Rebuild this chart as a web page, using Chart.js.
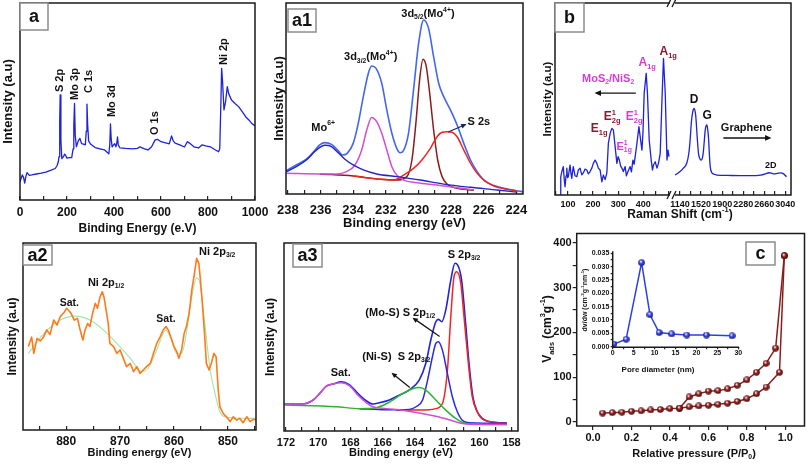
<!DOCTYPE html>
<html>
<head>
<meta charset="utf-8">
<script src="https://cdn.jsdelivr.net/npm/chart.js@4.4.1/dist/chart.umd.min.js"></script>
<style>
body{margin:0;background:#fff}
#fig{position:relative;width:810px;height:465px;overflow:hidden;background:#fff}
#fig canvas{position:absolute}
</style>
</head>
<body>
<div id="fig"></div>
<script>
//Data - (a) XPS survey
var surveyE=[0,5,10,15,20,25,30,40,50,70,90,110,130,150,158,163,166,169,171,174,178,185,190,195,200,210,220,226,229,232,235,240,248,255,262,270,278,282,285,288,292,300,320,340,360,378,382,385,388,392,398,403,408,412,415,418,425,450,480,500,510,530,545,560,575,585,600,620,635,645,652,660,680,700,712,720,740,760,775,790,810,830,845,850,855,858,862,868,875,882,888,900,915,930,945,960,975,985,1000]
var surveyI=[9.3,11,12.7,11.5,8.6,12,13.9,12.5,12.7,13.2,13.6,14.2,15,16,17.5,19.4,22,40,53.3,30,21,22,23.3,22.5,21.2,21.5,21.5,26,38,49,33,27,30,31.3,28.6,28.4,28,35,48.7,38,30,28.4,26.6,26,25.4,23.5,28,38.6,31,27,28,28.6,27,29,32,28,26.5,26.2,26,26.2,27,26,25.4,27,30.5,30.8,29.6,29,28.5,32.5,30,28.9,28,26.9,29.6,29,27,26.4,28,27.5,27,25.5,24.5,26,50,66.8,60,45.7,50,57.5,54,50.8,49,47.4,45,42.3,40.5,39,37.6]
var surveyTicks=[0,100,200,300,400,500,600,700,800,900,1000]
var surveyLabels=[0,200,400,600,800,1000]

//(a1) Mo 3d
var moEnvE=[238.1,237.49,236.87,236.36,236.05,235.74,235.33,234.92,234.65,234.37,234.0,233.69,233.38,233.07,232.87,232.6,232.25,231.94,231.63,231.33,231.12,230.92,230.61,230.3,229.99,229.68,229.38,229.07,228.76,228.45,228.04,227.63,227.22,226.81,226.4,225.99,225.37,224.76,224.0,223.59]
var moEnvI=[12.2,15.2,18.2,22.7,25.7,26.9,26,22.7,20.4,21.3,26.5,37,51,63.2,67,65.8,58,44,31.8,23.9,21.6,22.7,31.8,54.5,78.9,91.1,86.7,71.9,58,51,44,36.1,26.5,17.8,11.7,7.3,4.4,3,1.7,1.2]
var mo6E=[238.1,237.49,236.87,236.36,236.05,235.74,235.33,234.92,234.51,234.0,233.38,232.56,231.33,229.89,228.45,226.81,225.17,224.0]
var mo6I=[11.7,14.3,17.8,22.2,24.4,25.5,24.8,21.6,18.2,15.2,12.6,10.5,9.1,7.3,5.2,3.5,2.1,1]
var mo32E=[238.1,236.05,235.02,234.41,233.89,233.48,233.17,232.87,232.56,232.25,231.94,231.63,231.33,230.92,230.09,228.86,226.81,226.6]
var mo32I=[10.8,10.5,10.5,11.7,15.2,23,33.5,40.1,37.9,31.8,23,14.3,9.9,7.3,5.9,4.7,2.4,2.1]
var mo52E=[236.05,234.0,232.35,231.33,230.71,230.4,230.14,229.93,229.72,229.52,229.31,229.07,228.82,228.55,228.25,227.63,226.81,226.6]
var mo52I=[10.5,9.4,7.7,7.3,9.1,17.8,38.7,59.7,70.5,66.7,52.7,33.5,17.8,9.1,5.2,3,2.1,1.9]
var s2sE=[234.0,232.35,231.53,230.92,230.3,229.79,229.27,228.86,228.55,228.25,227.94,227.63,227.22,226.81,226.4,225.99,225.37,224.76,224.0]
var s2sI=[9.4,7.7,7.3,9.9,13.4,17.8,23.9,30,32.3,32.6,32.3,30,23,16.1,10.8,7.3,4.2,2.8,1.7]
var moTicks=[238,237,236,235,234,233,232,231,230,229,228,227,226,225,224]
var moLabels=[238,236,234,232,230,228,226,224]

//(b) Raman
var ramanLX=[70,71,75,81,85,88,92,95,98,101,105,108,112,115,118,121,128,135,141,148,155,161,168,175,181,188,195,201,208,215,221,228,235,241,248,255,261,268,275,281,288,295,300,305,310,315,321,328,333,337,342,348,353,359,364,368,375,383,388,395,399,404,412,417,424,432,437,441,448,455,461,468,475,481,488,495,499,503]
var ramanLY=[0,9.5,12,14.8,8,4.3,10,14,9,9.5,13,15.6,11,8.7,12,14.8,10,9.5,13,14,10.5,11.5,13.5,13,11,12.2,14,16.5,18.2,16.5,14,13,6.9,10.4,8,11.5,26.9,32.1,34.7,33.9,25.2,16.5,20,18.2,15,14,12.2,14.8,10,11.5,13,14.8,12,18.2,16,20,26.9,35.6,30.4,23.4,32.1,53,63.4,53,28.6,18.2,13,15.6,17.3,14,16.5,21.7,49.5,71.2,53,18.2,23.4,20]
var ramanRX=[1049,1100,1140,1200,1261,1300,1322,1345,1364,1380,1394,1410,1425,1450,1473,1500,1522,1545,1564,1580,1595,1610,1625,1640,1655,1670,1685,1716,1760,1807,2000,2231,2400,2595,2680,2746,2800,2837,2900,2959,3010,3062]
var ramanRY=[10.4,11.3,12.2,14,16.5,22,28.6,38,42.5,44.5,45.1,44,40.8,30,21.7,18.8,18.2,19.5,23.4,29,33.9,36,36.5,34,29.5,21,14.8,11.5,10.8,10.4,10.2,10.1,10.1,10.4,11,11.6,11.3,11,11.3,11.5,11,9.5]
var ramanLTicks=[50,100,150,200,250,300,350,400,450,500]
var ramanLLabels=[100,200,300,400]
var ramanRTicks=[1140,1330,1520,1710,1900,2090,2280,2470,2660,2850,3040]
var ramanRLabels=[1140,1520,1900,2280,2660,3040]

//(a2) Ni 2p
var niE=[887.0,886.4,886.0,885.4,884.8,884.2,883.6,883.0,882.3,881.7,881.1,880.5,879.9,879.6,879.1,878.5,877.9,877.4,876.9,876.5,876.0,875.6,875.1,874.6,874.2,873.7,873.3,873.0,872.6,872.2,871.9,871.2,870.6,870.0,869.4,868.8,868.1,867.5,866.9,866.3,865.7,865.1,864.4,863.8,863.2,862.6,862.0,861.5,861.05,860.4,860.0,859.5,859.1,858.6,858.1,857.7,857.2,856.7,856.3,855.8,855.4,855.1,854.7,854.3,854.0,853.5,853.1,852.6,852.2,851.8,851.5,850.9,850.3,849.6,849.0,848.4,847.8,847.2,846.5,845.9,845.3,844.8]
var niI=[44.6,49.7,41,49,47.6,49.7,53.5,51,58.8,56.1,60.6,62.4,65.1,64.2,62.4,58.8,59.7,53.5,48.1,53.5,57,55.3,62.4,67.7,65.1,71.3,73.9,71.3,64.2,57,46.3,44.6,41,42.8,38.3,33.9,35.6,31.2,33.9,30.3,32.1,33.9,35.6,41,46.3,49.7,53.5,55.3,53.5,48.1,44.6,41.9,38.3,42.8,51.9,55.3,62.4,74.9,82,91.8,89.1,80.2,65.9,49.7,35.6,32.1,35.6,41,39.2,21.4,12.5,8.9,7.1,4.5,7.1,5.3,6.2,3.9,7.1,4.5,5.7,5.3]
var niFitE=[887.0,884.2,881.1,878.3,875.6,873.1,870.6,868.1,866.0,864.8,863.2,861.5,860.7,859.5,858.6,857.7,856.7,855.8,855.2,854.3,853.3,852.4,851.5,850.3,844.8]
var niFitI=[41,51.4,58.8,60.9,58.8,53.5,46.3,38.3,31.2,33,42.8,53.5,49.7,41,41,51.9,71.3,81.3,78.6,57,32.1,19.6,9.8,6.8,6.2]
var niTicks=[885,880,875,870,865,860,855,850,845]
var niLabels=[880,870,860,850]

//(a3) S 2p
var sEnvE=[172.1,170.93,170.31,169.9,169.49,169.08,168.56,168.05,167.54,167.02,166.61,166.2,165.58,164.96,164.35,163.73,163.32,163.01,162.7,162.54,162.33,162.08,161.77,161.51,161.36,161.1,160.85,160.64,160.4,160.13,159.82,159.41,158.79,158.28]
var sEnvI=[14.4,14.4,16.5,20,23.9,25,26.2,24.5,20,16.1,14.4,15,16.5,19.1,21.8,27.1,36,48.4,58.1,59.4,58.1,64.4,80.3,89.2,88.5,80.3,57.3,36,18.3,10.3,6.7,5,4.4,4.1]
var sSatE=[172.1,170.93,170.31,169.9,169.49,169.08,168.56,168.05,167.54,167.02,166.61,165.79,164.76,163.73,162.7,161.88,161.06,160.24,158.28]
var sSatI=[14.4,14.4,16.5,20,23.9,25,25.7,24,19.1,15.1,12.9,11.9,11.1,9.6,7.8,6,4,3.4,3.4]
var sNiE=[172.1,168.87,167.43,166.4,165.58,164.76,164.14,163.73,163.32,162.7,162.08,161.47,160.85,158.28]
var sNiI=[13.8,12.9,11.9,12.4,15.4,19.9,22.5,23.1,21.8,16.5,11.1,6.7,4,3.4]
var sMoE=[167.43,165.79,164.35,163.93,163.52,163.21,162.91,162.7,162.54,162.29,161.98,161.67,161.36,161.06,160.64,158.28]
var sMoI=[11.9,11.3,11.5,12.9,16.5,27.1,39.5,46.6,47.5,43,30.5,18.1,10.1,5.7,4.4,4.1]
var s32E=[165.17,163.11,162.7,162.29,161.98,161.77,161.57,161.4,161.15,160.95,160.68,160.44,160.13,159.72,158.28]
var s32I=[11.1,11.3,11.9,14.6,32.3,60.8,82.1,84.7,78.5,60.8,36,18.3,10.3,5.9,4.1]
var sTicks=[172,171,170,169,168,167,166,165,164,163,162,161,160,159,158]
var sLabels=[172,170,168,166,164,162,160,158]

//(c) N2 isotherm + pore size
var adsP=[0.05,0.1,0.15,0.2,0.25,0.3,0.35,0.4,0.45,0.5,0.55,0.6,0.65,0.7,0.75,0.8,0.85,0.9,0.97,0.995]
var adsV=[20,21,22,24,25,27,28,30,31,34,36,37.5,39.5,42,46,52,63,78,111,371]
var desP=[0.995,0.95,0.9,0.85,0.8,0.75,0.7,0.65,0.6,0.55,0.5,0.45]
var desV=[371,165,131,111,94,82,74,70,69,63,56,31]
var pTicks=[0,0.1,0.2,0.3,0.4,0.5,0.6,0.7,0.8,0.9,1.0]
var pLabels=[0,0.2,0.4,0.6,0.8,1.0]
var vTicks=[0,50,100,150,200,250,300,350,400]
var vLabels=[0,100,200,300,400]
var poreD=[0.3,3.2,6.9,8.9,11.1,14.1,17.7,22.4,28.5]
var poreV=[0.001,0.0028,0.0315,0.012,0.0053,0.0048,0.0044,0.0044,0.0041]
var dTicks=[0,2.5,5,7.5,10,12.5,15,17.5,20,22.5,25,27.5,30]
var dLabels=[0,5,10,15,20,25,30]
var dvTicks=[0,0.0025,0.005,0.0075,0.01,0.0125,0.015,0.0175,0.02,0.0225,0.025,0.0275,0.03,0.0325,0.035]
var dvLabels=[0,0.005,0.01,0.015,0.02,0.025,0.03,0.035]

//Helpers
var FAM='"Liberation Sans", Arial, Helvetica, sans-serif';
function f(s){return {family:FAM,size:s,weight:'bold',lineHeight:1.2};}
function fnt(s){return 'bold '+s+'px '+FAM;}
function pts(xs,ys){return xs.map(function(x,i){return {x:x,y:ys[i]};});}
function ln(xs,ys,col,w,smooth){
  return {data:pts(xs,ys),borderColor:col,borderWidth:w||1.4,pointRadius:0,fill:false,
    cubicInterpolationMode:smooth?'monotone':'default'};
}

function xAxis(o){
  return {
    type:'linear',position:'bottom',min:o.min,max:o.max,reverse:!!o.rev,
    afterBuildTicks:function(s){s.ticks=o.ticks.map(function(v){return {value:v};});},
    afterFit:function(s){s.height=o.h;s.paddingLeft=0;s.paddingRight=0;},
    grid:{drawOnChartArea:false,tickLength:o.tl,color:'#222',lineWidth:1.2},
    border:{display:false},
    ticks:{autoSkip:false,maxRotation:0,color:'#111',font:f(o.fs),padding:o.pad,
      callback:function(v){return o.labels.indexOf(v)>=0?(o.fmt?o.fmt(v):String(v)):'';}},
    title:o.title?{display:true,text:o.title,color:'#111',font:f(o.ts),padding:{top:0,bottom:o.tpb||0}}:{display:false}
  };
}
function yAxis(o){
  var ax={
    type:'linear',min:o.min,max:o.max,display:o.show!==false,
    afterFit:function(s){s.width=o.w;s.paddingTop=0;s.paddingBottom=0;},
    border:{display:false},
    grid:{display:!!o.ticks,drawOnChartArea:false,tickLength:o.tl||0,color:'#222',lineWidth:1.2},
    ticks:{display:!!o.labels,autoSkip:false,color:'#111',font:f(o.fs||11),padding:o.pad||0,
      callback:function(v){return o.labels&&o.labels.indexOf(v)>=0?(o.fmt?o.fmt(v):String(v)):'';}},
    title:o.title?{display:true,text:o.title,color:'#111',font:f(o.ts||12),padding:{top:o.tpt||0,bottom:0}}:{display:false}
  };
  if(o.ticks){ax.afterBuildTicks=function(s){s.ticks=o.ticks.map(function(v){return {value:v};});};}
  return ax;
}

//Rich text: _{sub} ^{sup}
function parse(s){
  var out=[],re=/([_^])\{([^}]*)\}/g,last=0,m;
  while((m=re.exec(s))){
    if(m.index>last){out.push({t:s.slice(last,m.index),k:''});}
    out.push({t:m[2],k:m[1]});
    last=re.lastIndex;
  }
  if(last<s.length){out.push({t:s.slice(last),k:''});}
  return out;
}
function drawRich(ctx,s,x,y,size,col,rot,al){
  var segs=parse(s),w=0,prev=null;
  ctx.save();
  segs.forEach(function(g){
    ctx.font=fnt(g.k?size*0.62:size);
    g.w=ctx.measureText(g.t).width;
    if(g.k==='_'&&prev&&prev.k==='^'){g.x=prev.x;w=prev.x+Math.max(prev.w,g.w);}
    else{g.x=w;w+=g.w;}
    prev=g;
  });
  ctx.translate(x,y);
  if(rot){ctx.rotate(-Math.PI/2);}
  var x0=al==='left'?0:-w/2;
  ctx.fillStyle=col;ctx.textBaseline='middle';ctx.textAlign='left';
  segs.forEach(function(g){
    ctx.font=fnt(g.k?size*0.62:size);
    var dy=g.k==='_'?size*0.32:(g.k==='^'?-size*0.38:0);
    ctx.fillText(g.t,x0+g.x,dy);
  });
  ctx.restore();
}
function arrow(ctx,x1,y1,x2,y2,col,L){
  var a=Math.atan2(y2-y1,x2-x1);
  ctx.strokeStyle=col;ctx.fillStyle=col;ctx.lineWidth=1.3;
  ctx.beginPath();ctx.moveTo(x1,y1);ctx.lineTo(x2-L*0.7*Math.cos(a),y2-L*0.7*Math.sin(a));ctx.stroke();
  ctx.beginPath();ctx.moveTo(x2,y2);
  ctx.lineTo(x2-L*Math.cos(a-0.42),y2-L*Math.sin(a-0.42));
  ctx.lineTo(x2-L*Math.cos(a+0.42),y2-L*Math.sin(a+0.42));
  ctx.closePath();ctx.fill();
}
function sphere(col,edge,d){
  var c=document.createElement('canvas');c.width=d;c.height=d;
  var g=c.getContext('2d'),r=d/2;
  var gr=g.createRadialGradient(r*0.75,r*0.65,r*0.1,r,r,r);
  gr.addColorStop(0,'#ffffff');gr.addColorStop(0.4,col);gr.addColorStop(1,edge);
  g.fillStyle=gr;g.beginPath();g.arc(r,r,r-0.2,0,Math.PI*2);g.fill();
  return c;
}

//Decorations: frame, labels, arrows, panel letter
var decoCfg={},offs={};
var deco={id:'deco',afterDatasetsDraw:function(ch){
  var d=decoCfg[ch.canvas.id];
  if(!d){return;}
  var ctx=ch.ctx,a=ch.chartArea,o=offs[ch.canvas.id],sx=ch.scales.x,sy=ch.scales.y,fr=d.frame||'';
  ctx.save();
  ctx.strokeStyle='#1a1a1a';ctx.lineWidth=1.5;ctx.lineCap='square';
  ctx.beginPath();
  if(fr.indexOf('l')>=0){ctx.moveTo(a.left,a.top);ctx.lineTo(a.left,a.bottom);}
  if(fr.indexOf('r')>=0){ctx.moveTo(a.right,a.top);ctx.lineTo(a.right,a.bottom);}
  if(fr.indexOf('t')>=0){ctx.moveTo(a.left,a.top);ctx.lineTo(a.right,a.top);}
  if(fr.indexOf('b')>=0){ctx.moveTo(a.left,a.bottom);ctx.lineTo(a.right,a.bottom);}
  ctx.stroke();
  if(d.brk){
    [a.top,a.bottom].forEach(function(y){
      ctx.fillStyle='#fff';ctx.fillRect(a.left-3,y-3,5,6);
      ctx.strokeStyle='#1a1a1a';ctx.lineWidth=1.3;ctx.lineCap='butt';
      ctx.beginPath();
      ctx.moveTo(a.left-6,y+4);ctx.lineTo(a.left-2,y-4);
      ctx.moveTo(a.left-1,y+4);ctx.lineTo(a.left+3,y-4);
      ctx.stroke();
    });
  }
  (d.arrows||[]).forEach(function(r){
    arrow(ctx,sx.getPixelForValue(r[0]),sy.getPixelForValue(r[1]),sx.getPixelForValue(r[2]),sy.getPixelForValue(r[3]),r[4]||'#111',r[5]||6);
  });
  (d.notes||[]).forEach(function(n){
    drawRich(ctx,n.t,sx.getPixelForValue(n.x),sy.getPixelForValue(n.y),n.s||11,n.c||'#111',n.rot,n.al);
  });
  (d.texts||[]).forEach(function(n){
    drawRich(ctx,n.t,n.x-o[0],n.y-o[1],n.s||11,n.c||'#111',n.rot,n.al);
  });
  if(d.box){
    var b=d.box;
    ctx.fillStyle='#fff';ctx.fillRect(b[0]-o[0],b[1]-o[1],b[2],b[3]);
    ctx.strokeStyle='#8c8c8c';ctx.lineWidth=1.5;ctx.lineCap='butt';
    ctx.strokeRect(b[0]-o[0],b[1]-o[1],b[2],b[3]);
    drawRich(ctx,b[4],b[0]-o[0]+b[2]/2,b[1]-o[1]+b[3]/2+1,18,'#111');
  }
  ctx.restore();
}};

function mk(id,box,datasets,scales,pad,dc){
  var c=document.createElement('canvas');
  c.id=id;c.width=box[2];c.height=box[3];
  c.style.left=box[0]+'px';c.style.top=box[1]+'px';
  c.style.width=box[2]+'px';c.style.height=box[3]+'px';
  document.getElementById('fig').appendChild(c);
  offs[id]=box;decoCfg[id]=dc;
  return new Chart(c,{type:'line',data:{datasets:datasets},plugins:[deco],options:{
    responsive:false,animation:false,devicePixelRatio:1,events:[],
    layout:{padding:pad},
    plugins:{legend:{display:false},tooltip:{enabled:false}},
    elements:{point:{radius:0},line:{tension:0,borderJoinStyle:'round'}},
    scales:scales
  }});
}

var BLUE='#1e22d8',MAG='#d24fd2',DRED='#8b1c1c',RED='#f02424',GRN='#2cb52c';
var PINK='#d63cd6',WINE='#8b1a30';

//Charts
//(a)
mk('cA',[0,0,270,240],[ln(surveyE,surveyI,BLUE,1.3)],{
  x:xAxis({min:0,max:1000,ticks:surveyTicks,labels:surveyLabels,fs:12,tl:-4,pad:9.8,h:40,title:'Binding Energy (e.V)',ts:12,tpb:3.8}),
  y:yAxis({min:0,max:100,w:20,title:'Intensity (a.u)',ts:13,tpt:0.2})
},{top:3,right:15,left:0,bottom:0},{frame:'ltrb',box:[20,3,28,27,'a'],notes:[
  {x:170,y:54.8,t:'S 2p',rot:true,al:'left'},{x:234,y:50.8,t:'Mo 3p',rot:true,al:'left'},
  {x:294,y:54.3,t:'C 1s',rot:true,al:'left'},{x:391,y:42.1,t:'Mo 3d',rot:true,al:'left'},
  {x:574,y:33,t:'O 1s',rot:true,al:'left'},{x:868,y:68.5,t:'Ni 2p',rot:true,al:'left'}
]});

//(a1)
mk('cA1',[270,0,270,232],[
  ln(mo6E,mo6I,'#2424c8',1.4,true),ln(mo32E,mo32I,MAG,1.5,true),ln(s2sE,s2sI,RED,1.5,true),
  ln(mo52E,mo52I,DRED,1.5,true),ln(moEnvE,moEnvI,'#4466f0',1.6,true)
],{
  x:xAxis({min:223.59,max:238.12,rev:true,ticks:moTicks,labels:moLabels,fs:13,tl:-4,pad:12.2,h:38,title:'Binding energy (eV)',ts:13,tpb:1.2}),
  y:yAxis({min:0,max:100,w:16,title:'Intensity (a.u)',ts:13,tpt:1.2})
},{top:3,right:17,left:0,bottom:0},{frame:'ltrb',box:[288,9,28,23,'a1'],
  notes:[{x:229.42,y:94.2,t:'3d_{5/2}(Mo^{4+})'},{x:232.93,y:71.6,t:'3d_{3/2}(Mo^{4+})'},
    {x:235.84,y:34.7,t:'Mo^{6+}'},{x:226.3,y:37.5,t:'S 2s'}],
  arrows:[[228.14,32.6,227.05,36.6,'#1a2a60',6]]
});

//(b) left segment
mk('cBL',[540,0,270,232],[ln(ramanLX,ramanLY,BLUE,1.3)],{
  x:xAxis({min:48,max:519,ticks:ramanLTicks,labels:ramanLLabels,fs:9,tl:-4,pad:8.6,h:37}),
  y:yAxis({min:0,max:100,w:15,title:'Intensity (a.u)',ts:11.5,tpt:1.1})
},{top:3,right:137,left:0,bottom:0},{frame:'ltb',box:[555,3,29,29,'b'],
  notes:[{x:260,y:60.4,t:'MoS_{2}/NiS_{2}',c:PINK,s:11},{x:500,y:74.5,t:'A_{1g}',c:WINE,s:12},
    {x:416,y:68.8,t:'A_{1g}',c:PINK,s:12},{x:364,y:40.6,t:'E^{1}_{2g}',c:PINK,s:12},
    {x:276,y:40.6,t:'E^{1}_{2g}',c:WINE,s:12},{x:224,y:34.4,t:'E_{1g}',c:WINE,s:12},
    {x:324,y:25,t:'E^{1}_{1g}',c:PINK,s:11}],
  arrows:[[368,53.1,206,53.1,'#111',7]]
});
//(b) right segment
mk('cBR',[540,0,270,232],[ln(ramanRX,ramanRY,BLUE,1.3,true)],{
  x:xAxis({min:1013,max:3143,ticks:ramanRTicks,labels:ramanRLabels,fs:9,tl:-4,pad:8.6,h:37}),
  y:yAxis({min:0,max:100,w:0,show:false})
},{top:3,right:19,left:133,bottom:0},{frame:'rtb',brk:true,
  notes:[{x:1395,y:49.5,t:'D',s:12},{x:1631,y:41.1,t:'G',s:12},{x:2340,y:34.9,t:'Graphene',s:11},{x:2776,y:15.6,t:'2D',s:9}],
  arrows:[[1922,29.7,2790,29.7,'#111',7]],
  texts:[{x:680,y:215,t:'Raman Shift (cm^{-1})',s:12}]
});

//(a2)
mk('cA2',[0,232,270,233],[ln(niE,niI,'#ff7a1a',1.6),ln(niFitE,niFitI,'#9ee8a6',1.1,true)],{
  x:xAxis({min:844.8,max:888,rev:true,ticks:niTicks,labels:niLabels,fs:12,tl:-4,pad:8.8,h:35,title:'Binding energy (eV)',ts:11,tpb:5.4}),
  y:yAxis({min:0,max:100,w:23,title:'Intensity (a.u)',ts:12,tpt:5.8})
},{top:11,right:14,left:0,bottom:0},{frame:'ltrb',box:[23,245,29,20,'a2'],
  notes:[{x:852,y:95.2,t:'Ni 2p_{3/2}'},{x:872.6,y:78.6,t:'Ni 2p_{1/2}'},{x:879.4,y:67.9,t:'Sat.',s:10.5},{x:861.5,y:59.4,t:'Sat.',s:10.5}]
});

//(a3)
mk('cA3',[262,232,278,233],[
  ln(sSatE,sSatI,MAG,1.5,true),ln(sNiE,sNiI,GRN,1.5,true),ln(sMoE,sMoI,'#2a2ae0',1.5,true),
  ln(s32E,s32I,RED,1.5,true),ln(sEnvE,sEnvI,'#2424d0',1.6,true)
],{
  x:xAxis({min:157.6,max:172.12,rev:true,ticks:sTicks,labels:sLabels,fs:11,tl:-4,pad:9.4,h:34,title:'Binding energy (eV)',ts:11,tpb:5.4}),
  y:yAxis({min:0,max:100,w:22,title:'Intensity (a.u)',ts:12,tpt:1.8})
},{top:11,right:22,left:0,bottom:0},{frame:'ltrb',box:[293,244,29,23,'a3'],
  notes:[{x:160.95,y:93.6,t:'S 2p_{3/2}'},{x:164.9,y:62.8,t:'(Mo-S) S 2p_{1/2}'},
    {x:165.15,y:39.4,t:'(Ni-S)  S 2p_{3/2}'},{x:168.6,y:30.9,t:'Sat.'}],
  arrows:[[162.5,50.5,164.15,60.3,'#111',6],[164.35,23.4,165.45,31,'#111',6]]
});

//(c) isotherm
var ballR=sphere('#a12424','#3a0808',7),ballB=sphere('#3a4cf0','#10186a',7);
mk('cC',[540,228,270,237],[
  {data:pts(adsP,adsV),borderColor:DRED,borderWidth:1.5,pointStyle:ballR,pointRadius:3.5,fill:false},
  {data:pts(desP,desV),borderColor:DRED,borderWidth:1.5,pointStyle:ballR,pointRadius:3.5,fill:false}
],{
  x:xAxis({min:-0.085,max:1.1,ticks:pTicks,labels:pLabels,fs:11,tl:4,pad:1.4,h:39,fmt:function(v){return v.toFixed(1);}}),
  y:yAxis({min:-8.8,max:420.5,w:36.7,ticks:vTicks,labels:vLabels,fs:11,tl:4,pad:1})
},{top:3.5,right:2,left:0,bottom:0},{frame:'ltrb',box:[746,242,29,23,'c'],
  texts:[{x:694,y:454,t:'Relative pressure (P/P_{0})',s:11},{x:548,y:329,t:'V_{ads} (cm^{3}g^{-1})',s:12,rot:true}]
});

//(c) inset
mk('cIn',[575,240,170,140],[
  {data:pts(poreD,poreV),borderColor:'#2b3fe0',borderWidth:1.5,pointStyle:ballB,pointRadius:3.5,fill:false}
],{
  x:xAxis({min:0,max:30,ticks:dTicks,labels:dLabels,fs:7,tl:2,pad:-0.5,h:32.7}),
  y:yAxis({min:-0.0002,max:0.0355,w:37.7,ticks:dvTicks,labels:dvLabels,fs:7,tl:2,pad:1.4,fmt:function(v){return v.toFixed(3);}})
},{top:12,right:6.7,left:0,bottom:0},{frame:'lb',
  texts:[{x:658,y:370,t:'Pore diameter (nm)',s:8},{x:585,y:300,t:'dv/dw (cm^{-3}g^{-1}nm^{-1})',s:7,rot:true}]
});
</script>
</body>
</html>
